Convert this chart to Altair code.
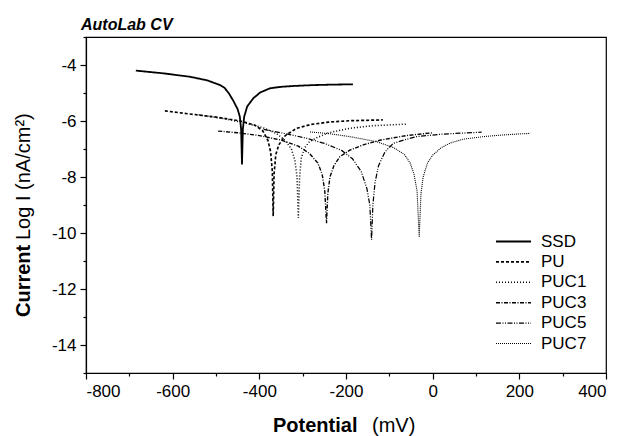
import altair as alt
import pandas as pd

# Tafel scans: potential (mV) and log current density for each coating
SERIES = ["SSD", "PU", "PUC1", "PUC3", "PUC5", "PUC7"]

ssd_e = [-685, -620, -560, -520, -490, -480, -470, -460, -450, -445, -442, -440,
         -438, -435, -428, -414, -398, -375, -350, -322, -280, -230, -184]
ssd_l = [-4.20, -4.30, -4.42, -4.55, -4.72, -4.82, -5.02, -5.28, -5.58, -5.85, -6.30, -7.55,
         -6.30, -5.85, -5.48, -5.19, -4.98, -4.83, -4.78, -4.75, -4.72, -4.70, -4.69]

pu_e = [-618, -560, -500, -444, -410, -392, -380, -374, -370, -368,
        -366, -362, -355, -340, -314, -280, -240, -191, -115]
pu_l = [-5.64, -5.75, -5.86, -6.00, -6.15, -6.35, -6.70, -7.10, -7.80, -9.40,
        -7.90, -7.20, -6.85, -6.52, -6.26, -6.12, -6.04, -5.99, -5.96]

puc1_e = [-540, -480, -430, -390, -360, -340, -326, -318, -313, -310,
          -307, -303, -295, -285, -268, -240, -191, -140, -59]
puc1_l = [-5.78, -5.92, -6.08, -6.25, -6.45, -6.70, -7.00, -7.40, -8.00, -9.46,
          -8.00, -7.30, -6.95, -6.75, -6.60, -6.42, -6.26, -6.17, -6.11]

puc3_e = [-495, -450, -400, -350, -310, -285, -265, -255, -249, -245,
          -242, -237, -228, -214, -191, -160, -120, -60, 0]
puc3_l = [-6.36, -6.42, -6.52, -6.68, -6.90, -7.15, -7.50, -7.90, -8.50, -9.65,
          -8.60, -8.00, -7.60, -7.27, -7.04, -6.85, -6.68, -6.52, -6.42]

puc5_e = [-390, -340, -290, -250, -210, -185, -165, -152, -145, -141,
          -138, -133, -125, -110, -91, -60, -37, 20, 113]
puc5_l = [-6.30, -6.45, -6.62, -6.80, -7.05, -7.35, -7.80, -8.40, -9.00, -10.25,
          -9.00, -8.20, -7.60, -7.10, -6.80, -6.65, -6.56, -6.47, -6.40]

puc7_e = [-283, -240, -190, -129, -90, -65, -52, -43, -36, -31,
          -27, -22, -12, 0, 20, 40, 70, 116, 160, 225]
puc7_l = [-6.39, -6.45, -6.56, -6.74, -6.95, -7.20, -7.50, -7.90, -8.50, -10.15,
          -8.60, -8.00, -7.50, -7.22, -6.95, -6.79, -6.65, -6.56, -6.50, -6.44]

DASHES = [[1, 0], [3, 2], [1, 2], [4, 1.5, 1, 1.5], [5, 1.5, 1, 1.5, 1, 1.5], [1, 1]]
WIDTHS = [1.8, 1.1, 1.1, 1.1, 1.1, 1.1]

X_TICKS = list(range(-800, 401, 100))
Y_TICKS = list(range(-15, -2))

FONT = "Liberation Sans"

frames = []
for name, e, l in [("SSD", ssd_e, ssd_l), ("PU", pu_e, pu_l), ("PUC1", puc1_e, puc1_l),
                   ("PUC3", puc3_e, puc3_l), ("PUC5", puc5_e, puc5_l), ("PUC7", puc7_e, puc7_l)]:
    frames.append(pd.DataFrame({"series": name, "E": e, "L": l, "i": range(len(e))}))
df = pd.concat(frames, ignore_index=True)

lines = alt.Chart(df).mark_line(color="black", clip=True).encode(
    x=alt.X("E:Q", scale=alt.Scale(domain=[-800, 400], nice=False, zero=False),
            axis=alt.Axis(values=X_TICKS, title=None,
                          labelExpr="datum.value % 200 === 0 ? '' + datum.value : ''",
                          tickSize={"condition": {"test": "datum.value % 200 === 0", "value": 6}, "value": 3})),
    y=alt.Y("L:Q", scale=alt.Scale(domain=[-15, -3], nice=False, zero=False),
            axis=alt.Axis(values=Y_TICKS, title=None,
                          labelExpr="datum.value % 2 === 0 ? '' + datum.value : ''",
                          tickSize={"condition": {"test": "datum.value % 2 === 0", "value": 6}, "value": 3})),
    strokeDash=alt.StrokeDash("series:N", scale=alt.Scale(domain=SERIES, range=DASHES),
                              sort=SERIES, legend=alt.Legend(title=None)),
    strokeWidth=alt.StrokeWidth("series:N", scale=alt.Scale(domain=SERIES, range=WIDTHS), legend=None),
    order="i:Q",
)

def label(text, x, y, weight="normal", angle=0):
    return alt.Chart(pd.DataFrame({"t": [text]})).mark_text(
        font=FONT, fontSize=20, fontWeight=weight, color="black",
        align="left", baseline="alphabetic", angle=angle,
    ).encode(text="t:N", x=alt.value(x), y=alt.value(y))

y_title_a = label("Current", -56, 280, weight="bold", angle=270)
y_title_b = label("Log I (nA/cm²)", -56, 203, angle=270)
x_title_a = label("Potential", 187, 395, weight="bold")
x_title_b = label("(mV)", 286, 395)

chart = alt.layer(lines, y_title_a, y_title_b, x_title_a, x_title_b).properties(
    width=520, height=336,
    autosize="none",
    padding={"left": 86, "top": 37, "right": 19, "bottom": 63},
    title=alt.TitleParams("AutoLab CV", anchor="start", frame="group", font=FONT, fontSize=16,
                          fontWeight="bold", fontStyle="italic", color="black",
                          dx=-5, offset=3),
).configure_view(
    stroke="black", strokeWidth=1.2
).configure_axis(
    grid=False, domainColor="black", tickColor="black", labelColor="black",
    labelFont=FONT, labelFontSize=17, domainWidth=1.2, tickWidth=1.2, labelPadding=4,
).configure_legend(
    orient="none", legendX=409, legendY=197, padding=0,
    symbolType="stroke", symbolSize=1225, symbolStrokeWidth=1.2, symbolStrokeColor="black",
    labelFont=FONT, labelFontSize=17, labelColor="black", labelOffset=9,
    clipHeight=15, rowPadding=2.4,
)

chart.save("out.html", embed_options={"renderer": "svg", "actions": False})
